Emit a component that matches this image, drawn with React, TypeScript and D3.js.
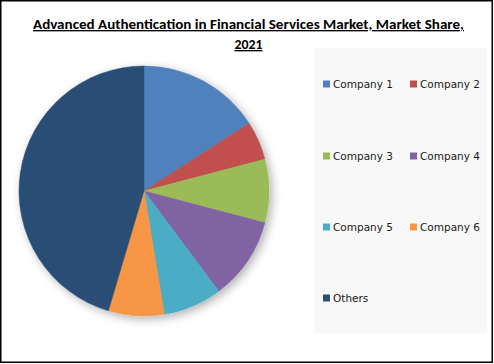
import React, { useEffect, useRef } from 'react';
import * as d3 from 'd3';

const titleLines = ['Advanced Authentication in Financial Services Market, Market Share,', '2021'];
const companies = ['Company 1', 'Company 2', 'Company 3', 'Company 4', 'Company 5', 'Company 6', 'Others'];
const shares = [15.9, 5.0, 8.2, 10.7, 7.6, 7.2, 45.4];
const colors = ['#4F81BD', '#C0504D', '#9BBB59', '#8064A2', '#4BACC6', '#F79646', '#2C4D75'];

const W = 494;
const H = 364;

const App: React.FC = () => {
  const svgRef = useRef<SVGSVGElement>(null);

  useEffect(() => {
    if (!svgRef.current) return;
    const svg = d3.select(svgRef.current);
    svg.selectAll('*').remove();

    const defs = svg.append('defs');
    const f = defs.append('filter').attr('id', 'pieShadow')
      .attr('x', '-20%').attr('y', '-20%').attr('width', '140%').attr('height', '140%');
    f.append('feDropShadow')
      .attr('dx', 3).attr('dy', 3).attr('stdDeviation', 5)
      .attr('flood-color', '#000').attr('flood-opacity', 0.3);

    // background + frame
    svg.append('rect').attr('x', 0).attr('y', 0).attr('width', W).attr('height', H).attr('fill', '#fff');
    svg.append('rect')
      .attr('x', 0.75).attr('y', 0.75).attr('width', 491.5).attr('height', 361.5)
      .attr('fill', 'none').attr('stroke', '#000').attr('stroke-width', 1.5);

    // title
    const title = svg.append('g')
      .attr('font-family', 'Carlito, Calibri, "Liberation Sans", sans-serif')
      .attr('font-weight', 'bold')
      .attr('font-size', 13.5)
      .attr('fill', '#000')
      .attr('text-anchor', 'middle');
    title.append('text').attr('x', 248.5).attr('y', 29)
      .attr('textLength', 431).attr('lengthAdjust', 'spacingAndGlyphs')
      .style('text-decoration', 'underline')
      .text(titleLines[0]);
    title.append('text').attr('x', 248.5).attr('y', 49)
      .attr('textLength', 28).attr('lengthAdjust', 'spacingAndGlyphs')
      .style('text-decoration', 'underline')
      .text(titleLines[1]);

    // pie
    const cx = 144, cy = 191, r = 125;
    const pie = d3.pie<number>().sort(null).value(d => d);
    const arc = d3.arc<d3.PieArcDatum<number>>().innerRadius(0).outerRadius(r);
    const g = svg.append('g').attr('transform', `translate(${cx},${cy})`).attr('filter', 'url(#pieShadow)');
    g.selectAll('path')
      .data(pie(shares))
      .enter().append('path')
      .attr('d', arc)
      .attr('fill', (_, i) => colors[i])
      .attr('stroke', (_, i) => colors[i])
      .attr('stroke-width', 0.5);

    // legend
    svg.append('rect')
      .attr('x', 314).attr('y', 48).attr('width', 173).attr('height', 285)
      .attr('fill', '#f8f8f8');
    const colX = [323, 410];
    const rowY = [84, 156, 227, 298];
    const lg = svg.append('g')
      .attr('font-family', '"DejaVu Sans", Verdana, sans-serif')
      .attr('font-size', 10.5)
      .attr('fill', '#1a1a1a');
    companies.forEach((c, i) => {
      const x = colX[i % 2];
      const y = rowY[Math.floor(i / 2)];
      lg.append('rect').attr('x', x).attr('y', y - 3.5).attr('width', 7).attr('height', 7).attr('fill', colors[i]);
      lg.append('text').attr('x', x + 10).attr('y', y + 4).text(c);
    });
  }, []);

  return (
    <div style={{ position: 'fixed', left: 0, top: 0 }}>
      <svg ref={svgRef} width={W} height={H} style={{ display: 'block' }}></svg>
    </div>
  );
};

export default App;
